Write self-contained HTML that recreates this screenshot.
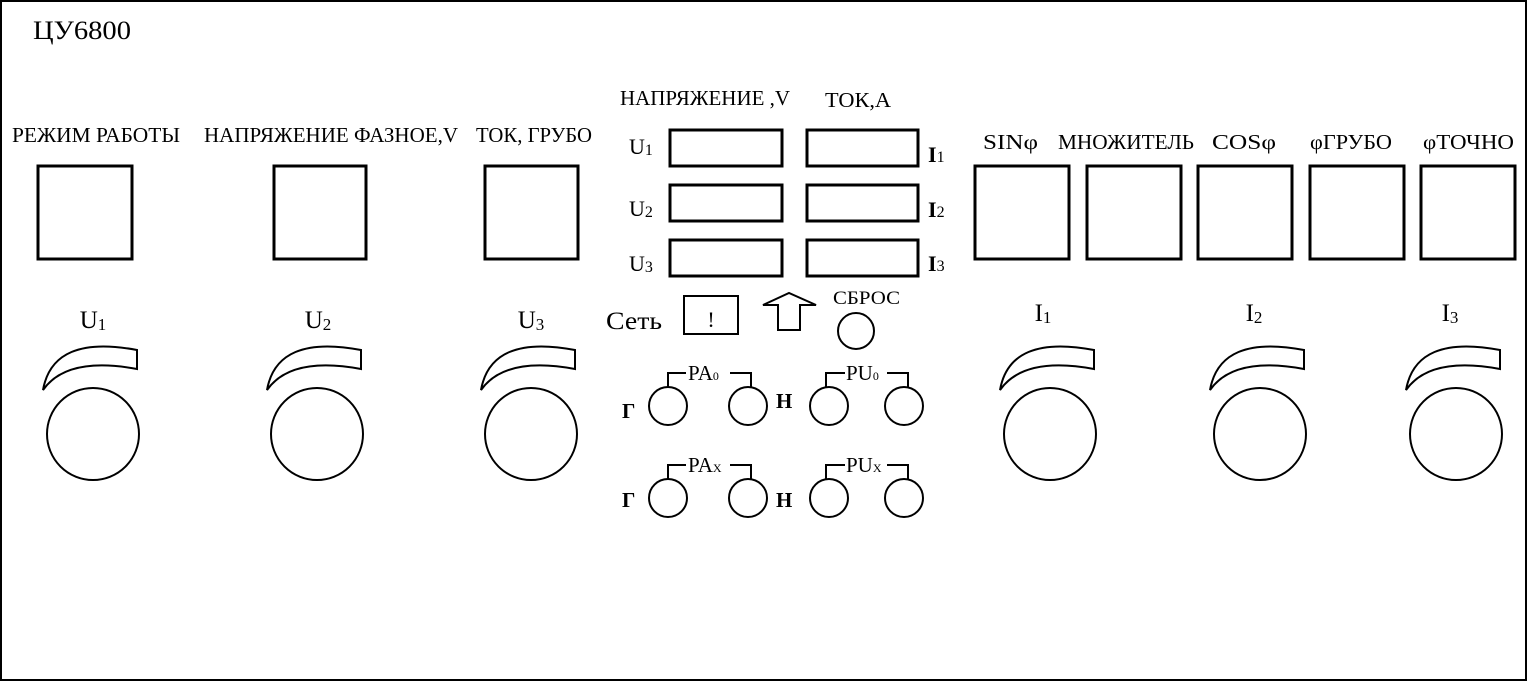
<!DOCTYPE html>
<html><head><meta charset="utf-8"><style>
html,body{margin:0;padding:0;background:#fff;}
svg{display:block;}
text{font-family:"Liberation Serif",serif;fill:#000;}
</style></head><body>
<svg width="1528" height="682" viewBox="0 0 1528 682" xmlns="http://www.w3.org/2000/svg">
<rect x="1" y="1" width="1525" height="679" fill="#fff" stroke="#000" stroke-width="2"/>
<text x="33" y="39" font-size="26" textLength="98" lengthAdjust="spacingAndGlyphs">ЦУ6800</text>

<g font-size="21" lengthAdjust="spacingAndGlyphs">
<text x="12" y="142" textLength="168" lengthAdjust="spacingAndGlyphs">РЕЖИМ РАБОТЫ</text>
<text x="204" y="142" textLength="254" lengthAdjust="spacingAndGlyphs">НАПРЯЖЕНИЕ ФАЗНОЕ,V</text>
<text x="476" y="142" textLength="116" lengthAdjust="spacingAndGlyphs">ТОК, ГРУБО</text>
<text x="983" y="149" textLength="55" lengthAdjust="spacingAndGlyphs">SINφ</text>
<text x="1058" y="149" textLength="136" lengthAdjust="spacingAndGlyphs">МНОЖИТЕЛЬ</text>
<text x="1212" y="149" textLength="64" lengthAdjust="spacingAndGlyphs">COSφ</text>
<text x="1310" y="149" textLength="82" lengthAdjust="spacingAndGlyphs">φГРУБО</text>
<text x="1423" y="149" textLength="91" lengthAdjust="spacingAndGlyphs">φТОЧНО</text>
<text x="620" y="105" textLength="170" lengthAdjust="spacingAndGlyphs">НАПРЯЖЕНИЕ ,V</text>
<text x="825" y="107" textLength="66" lengthAdjust="spacingAndGlyphs">ТОК,А</text>
</g>

<g fill="none" stroke="#000" stroke-width="3">
<rect x="38" y="166" width="94" height="93"/>
<rect x="274" y="166" width="92" height="93"/>
<rect x="485" y="166" width="93" height="93"/>
<rect x="975" y="166" width="94" height="93"/>
<rect x="1087" y="166" width="94" height="93"/>
<rect x="1198" y="166" width="94" height="93"/>
<rect x="1310" y="166" width="94" height="93"/>
<rect x="1421" y="166" width="94" height="93"/>
<rect x="670" y="130" width="112" height="36"/>
<rect x="807" y="130" width="111" height="36"/>
<rect x="670" y="185" width="112" height="36"/>
<rect x="807" y="185" width="111" height="36"/>
<rect x="670" y="240" width="112" height="36"/>
<rect x="807" y="240" width="111" height="36"/>
</g>

<g font-size="22">
<text x="629" y="154">U<tspan font-size="16" dy="1">1</tspan></text>
<text x="629" y="216">U<tspan font-size="16" dy="1">2</tspan></text>
<text x="629" y="271">U<tspan font-size="16" dy="1">3</tspan></text>
<text x="928" y="162" font-weight="bold">I<tspan font-size="16" font-weight="normal">1</tspan></text>
<text x="928" y="217" font-weight="bold">I<tspan font-size="16" font-weight="normal">2</tspan></text>
<text x="928" y="271" font-weight="bold">I<tspan font-size="16" font-weight="normal">3</tspan></text>
</g>

<text x="606" y="329" font-size="25" textLength="56" lengthAdjust="spacingAndGlyphs">Сеть</text>
<rect x="684" y="296" width="54" height="38" fill="none" stroke="#000" stroke-width="2"/>
<text x="711" y="327" font-size="22" text-anchor="middle">!</text>
<path d="M778,330 L778,305 L763,305 L789,293 L816,305 L800,305 L800,330 Z" fill="none" stroke="#000" stroke-width="2"/>
<text x="833" y="304" font-size="19" textLength="67" lengthAdjust="spacingAndGlyphs">СБРОС</text>
<circle cx="856" cy="331" r="18" fill="none" stroke="#000" stroke-width="2"/>

<g fill="none" stroke="#000" stroke-width="2">
<circle cx="668" cy="406" r="19"/><circle cx="748" cy="406" r="19"/>
<circle cx="829" cy="406" r="19"/><circle cx="904" cy="406" r="19"/>
<circle cx="668" cy="498" r="19"/><circle cx="748" cy="498" r="19"/>
<circle cx="829" cy="498" r="19"/><circle cx="904" cy="498" r="19"/>
<path d="M668,387 V373 H686 M730,373 H751 V387"/>
<path d="M826,387 V373 H845 M887,373 H908 V387"/>
<path d="M668,479 V465 H686 M730,465 H751 V479"/>
<path d="M826,479 V465 H845 M887,465 H908 V479"/>
</g>
<g font-size="21" font-weight="bold">
<text x="622" y="418">Г</text><text x="776" y="408">Н</text>
<text x="622" y="507">Г</text><text x="776" y="507">Н</text>
</g>
<g font-size="21">
<text x="688" y="380">PA<tspan font-size="12">0</tspan></text>
<text x="846" y="380">PU<tspan font-size="12">0</tspan></text>
<text x="688" y="472">PA<tspan font-size="12">X</tspan></text>
<text x="846" y="472">PU<tspan font-size="12">X</tspan></text>
</g>

<g font-size="25" text-anchor="middle">
<text x="93" y="328">U<tspan font-size="17" dy="2">1</tspan></text>
<text x="318" y="328">U<tspan font-size="17" dy="2">2</tspan></text>
<text x="531" y="328">U<tspan font-size="17" dy="2">3</tspan></text>
<text x="1043" y="321">I<tspan font-size="17" dy="2">1</tspan></text>
<text x="1254" y="321">I<tspan font-size="17" dy="2">2</tspan></text>
<text x="1450" y="321">I<tspan font-size="17" dy="2">3</tspan></text>
</g>

<defs>
<g id="knob" fill="none" stroke="#000" stroke-width="2">
<path d="M-50,-44 Q-40,-100 44,-84 L44,-65 Q-26,-78 -50,-44 Z"/>
<circle cx="0" cy="0" r="46"/>
</g>
</defs>
<use href="#knob" x="93" y="434"/>
<use href="#knob" x="317" y="434"/>
<use href="#knob" x="531" y="434"/>
<use href="#knob" x="1050" y="434"/>
<use href="#knob" x="1260" y="434"/>
<use href="#knob" x="1456" y="434"/>
</svg>
</body></html>
